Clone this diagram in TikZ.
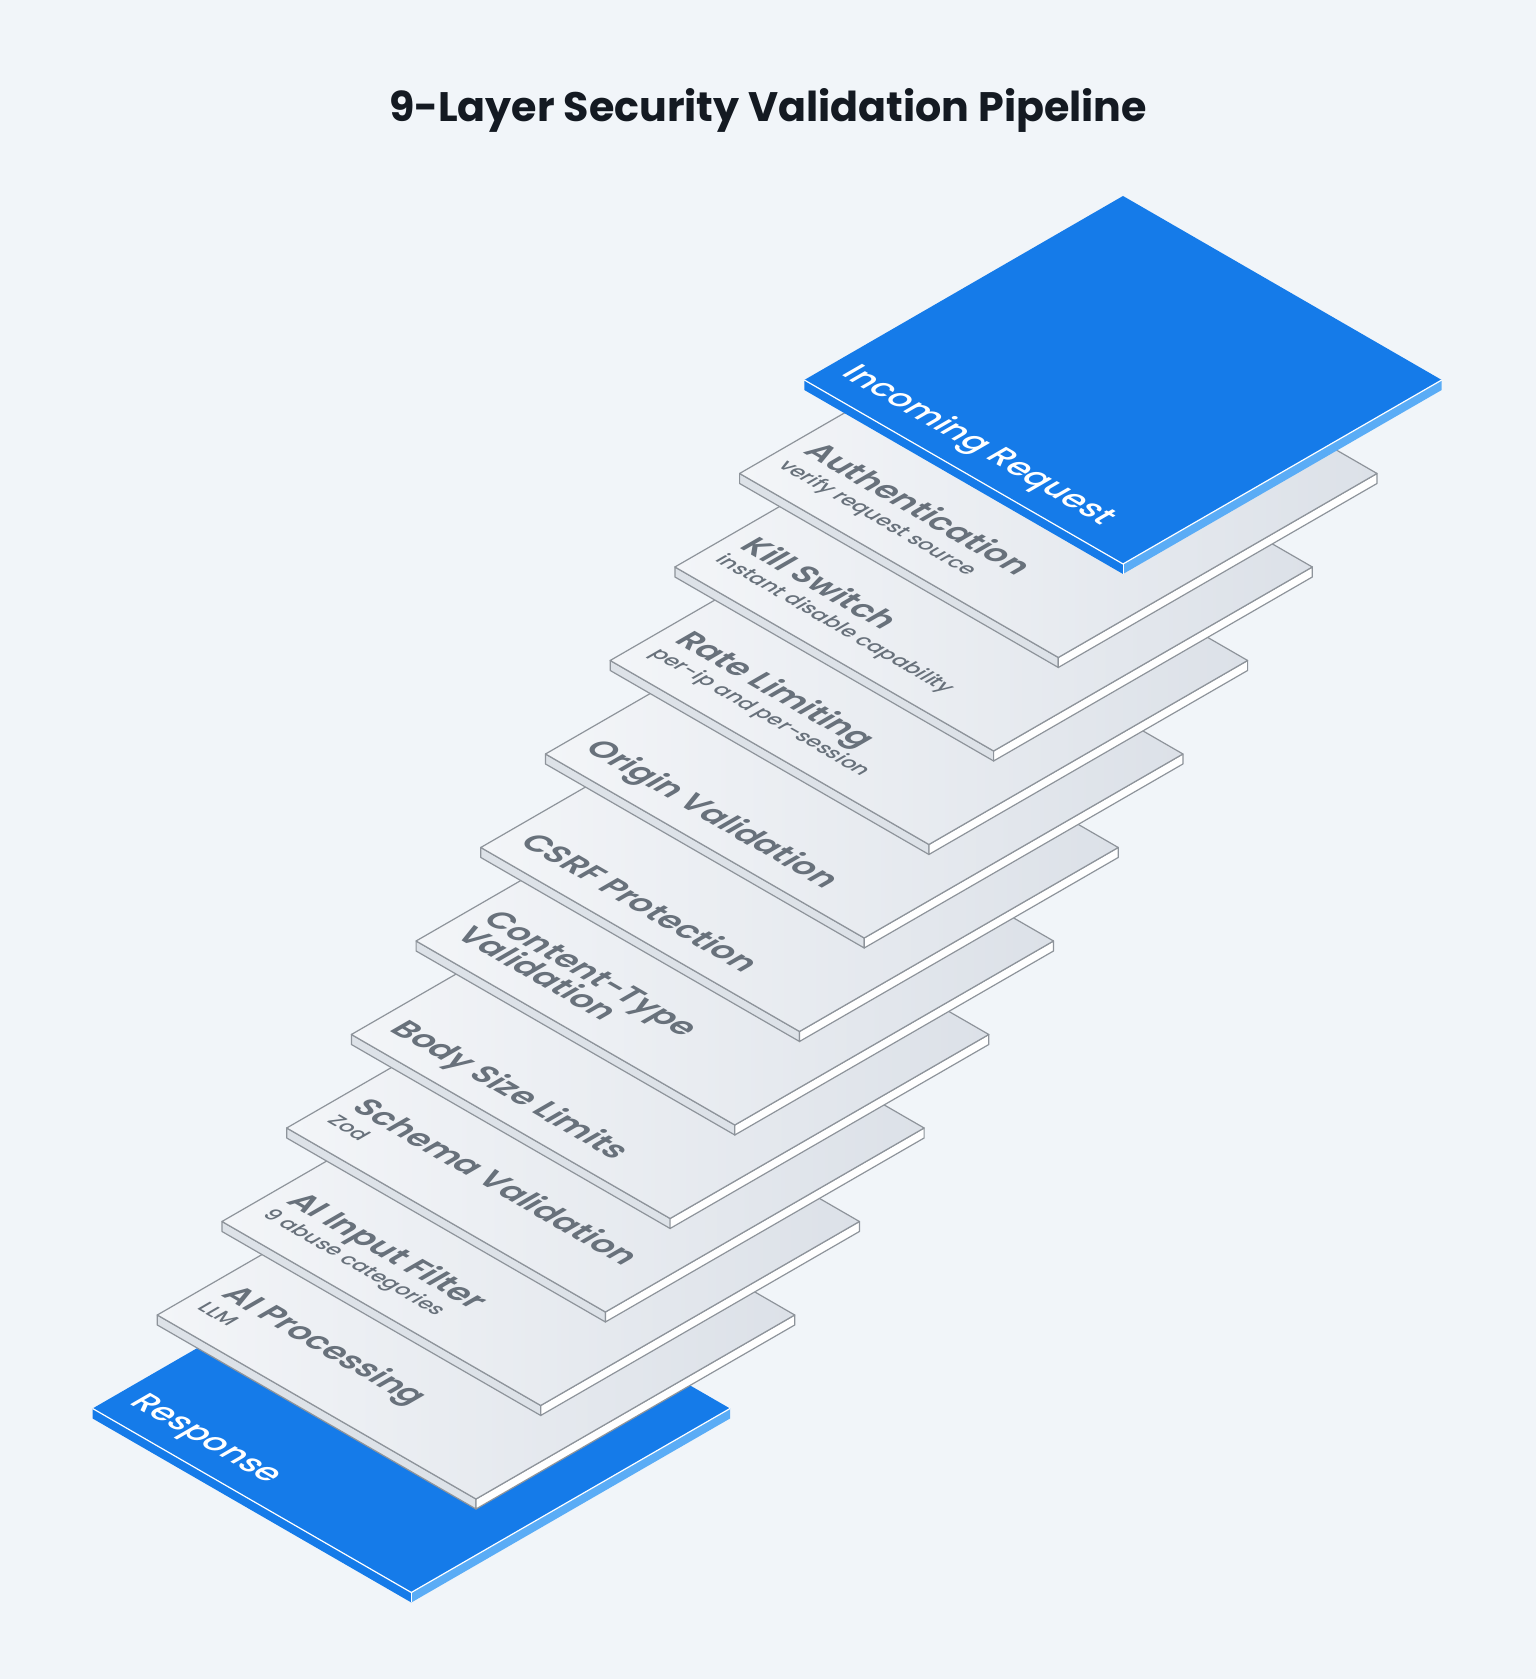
\documentclass[tikz,border=0pt]{standalone}
\usepackage{fontspec}
\setmainfont{Poppins}
\IfFontExistsTF{Poppins SemiBold}{\newfontfamily\fsemi{Poppins SemiBold}}{\newcommand\fsemi{\bfseries}}
\IfFontExistsTF{Poppins Medium}{\newfontfamily\fmed{Poppins Medium}}{\newcommand\fmed{\relax}}
\definecolor{bgc}{HTML}{F1F5F9}
\definecolor{bluetop}{HTML}{157BE9}
\definecolor{blueside}{HTML}{5AACF6}
\definecolor{graytopa}{HTML}{F3F5F8}
\definecolor{graytopb}{HTML}{DCE1E8}
\definecolor{grayside}{HTML}{DDE2E8}
\definecolor{edgec}{HTML}{8E949B}
\definecolor{labc}{HTML}{68717B}
\definecolor{titlec}{HTML}{141A22}
\tikzset{
  edgeline/.style={draw=edgec,line width=0.6pt,line join=round},
  labtitle/.style={text=labc,font=\fsemi\fontsize{16.2}{18}\selectfont},
  labsub/.style={text=labc,font=\fmed\fontsize{10.4}{12}\selectfont},
  labwhite/.style={text=white,font=\fmed\fontsize{16.5}{18}\selectfont},
}
% plate geometry: left vertex of plate i at (804.3-64.7 i, 1299-93.5 i)
\newcommand\grayplate[1]{%
  \pgfmathsetmacro\cx{804.3-64.7*#1+318.7}%
  \pgfmathsetmacro\cy{1299-93.5*#1}%
  \fill[grayside] (\cx-318.7,\cy) -- (\cx,\cy-184) -- (\cx,\cy-194) -- (\cx-318.7,\cy-10) -- cycle;
  \draw[edgeline] (\cx-318.7,\cy) -- (\cx,\cy-184) -- (\cx,\cy-194) -- (\cx-318.7,\cy-10) -- cycle;
  \fill[white] (\cx,\cy-184) -- (\cx+318.7,\cy) -- (\cx+318.7,\cy-10) -- (\cx,\cy-194) -- cycle;
  \draw[edgeline] (\cx,\cy-184) -- (\cx+318.7,\cy) -- (\cx+318.7,\cy-10) -- (\cx,\cy-194) -- cycle;
  \shade[left color=graytopa,right color=graytopb] (\cx-318.7,\cy) -- (\cx,\cy+184) -- (\cx+318.7,\cy) -- (\cx,\cy-184) -- cycle;
  \draw[edgeline] (\cx-318.7,\cy) -- (\cx,\cy+184) -- (\cx+318.7,\cy) -- (\cx,\cy-184) -- cycle;
}
\newcommand\blueplate[1]{%
  \pgfmathsetmacro\cx{804.3-64.7*#1+318.7}%
  \pgfmathsetmacro\cy{1299-93.5*#1}%
  \fill[bluetop] (\cx-318.7,\cy) -- (\cx,\cy-184) -- (\cx,\cy-194) -- (\cx-318.7,\cy-10) -- cycle;
  \fill[blueside] (\cx,\cy-184) -- (\cx+318.7,\cy) -- (\cx+318.7,\cy-10) -- (\cx,\cy-194) -- cycle;
  \fill[bluetop] (\cx-318.7,\cy) -- (\cx,\cy+184) -- (\cx+318.7,\cy) -- (\cx,\cy-184) -- cycle;
  \draw[white,line width=0.6pt] (\cx-318.7,\cy) -- (\cx,\cy-184) -- (\cx+318.7,\cy);
  \draw[white,line width=0.4pt] (\cx,\cy-184) -- (\cx,\cy-194);
}
% label on plate #1 : name #2, along-edge offset #3, inward offset #4, style #5, text #6
\newcommand\plab[6]{%
  \begin{scope}[shift={(804.3-64.7*#1,1299-93.5*#1)},cm={0.866,-0.5,0.866,0.5,(0,0)}]
    \node[transform shape,anchor=base west,inner sep=0pt,#5] (#2) at (#3,#4) {#6};
  \end{scope}}
\begin{document}
\begin{tikzpicture}[x=0.5pt,y=0.5pt]
\fill[bgc] (0,0) rectangle (1536,1679);
\useasboundingbox (0,0) rectangle (1536,1679);
\node[text=titlec,font=\bfseries\fontsize{20.6}{23}\selectfont] (title) at (768,1568) {9-Layer Security Validation Pipeline};
% plates, bottom of the stack first
\blueplate{11}
\grayplate{10}
\grayplate{9}
\grayplate{8}
\grayplate{7}
\grayplate{6}
\grayplate{5}
\grayplate{4}
\grayplate{3}
\grayplate{2}
\grayplate{1}
\blueplate{0}
% labels
\plab{0}{incoming}{15}{26}{labwhite}{Incoming Request}
\plab{1}{auth}{15}{57}{labtitle}{Authentication}
\plab{1}{authsub}{14}{29}{labsub}{verify request source}
\plab{2}{kill}{17}{56}{labtitle}{Kill Switch}
\plab{2}{killsub}{16}{29}{labsub}{instant disable capability}
\plab{3}{rate}{17}{56}{labtitle}{Rate Limiting}
\plab{3}{ratesub}{16}{29}{labsub}{per-ip and per-session}
\plab{4}{origin}{17}{26}{labtitle}{Origin Validation}
\plab{5}{csrf}{17}{26}{labtitle}{CSRF Protection}
\plab{6}{ctype}{17}{58}{labtitle}{Content-Type}
\plab{6}{ctypeb}{17}{27}{labtitle}{Validation}
\plab{7}{body}{17}{26}{labtitle}{Body Size Limits}
\plab{8}{schema}{17}{56}{labtitle}{Schema Validation}
\plab{8}{schemasub}{16}{29}{labsub}{Zod}
\plab{9}{aifilter}{17}{56}{labtitle}{AI Input Filter}
\plab{9}{aifiltersub}{16}{29}{labsub}{9 abuse categories}
\plab{10}{aiproc}{17}{56}{labtitle}{AI Processing}
\plab{10}{aiprocsub}{16}{29}{labsub}{LLM}
\plab{11}{response}{15}{26}{labwhite}{Response}
\end{tikzpicture}
\end{document}
